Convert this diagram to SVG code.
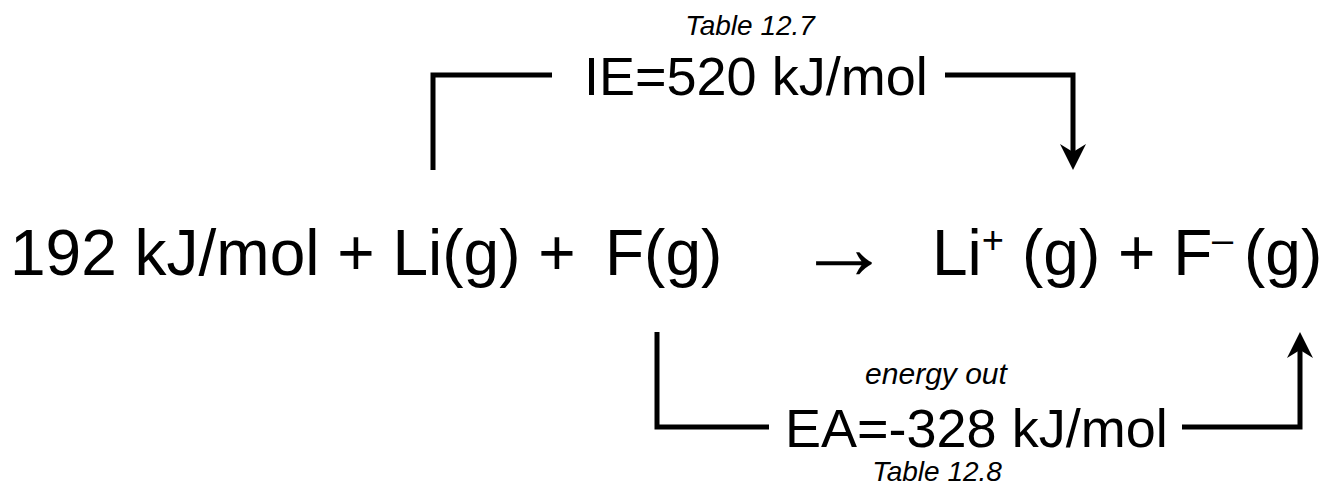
<svg xmlns="http://www.w3.org/2000/svg" width="1324" height="491" viewBox="0 0 1324 491">
<style>
text{font-family:"Liberation Sans",Arial,sans-serif;fill:#000}
.it{font-style:italic;font-size:28px;text-anchor:middle}
.lab{font-size:54px}
.eq{font-size:64px}
.sup{font-size:38px}
.arr{font-family:"Liberation Serif","Times New Roman",serif;font-size:94px}
.conn{fill:none;stroke:#000;stroke-width:5;stroke-linejoin:miter;stroke-linecap:butt}
</style>
<defs>
<marker id="ah" viewBox="0 0 26 26" refX="8" refY="13" markerWidth="26" markerHeight="26" markerUnits="userSpaceOnUse" orient="auto">
<path d="M0,0 L26,13 L0,26 L8,13 Z" fill="#000"/>
</marker>
</defs>
<rect width="1324" height="491" fill="#fff"/>
<g id="connectors">
<polyline class="conn" points="433,170 433,75 552,75"/>
<polyline class="conn" points="945,75 1073,75 1073,152" marker-end="url(#ah)"/>
<polyline class="conn" points="657,332 657,427 769,427"/>
<polyline class="conn" points="1182,427 1300,427 1300,350" marker-end="url(#ah)"/>
</g>
<g id="ie-label">
<text class="it" x="750" y="35">Table 12.7</text>
<text class="lab" x="584" y="95">IE=520 kJ/mol</text>
</g>
<g id="reactants">
<text class="eq" x="10" y="275">192 kJ/mol + Li(g) +</text>
<text class="eq" x="605" y="275">F(g)</text>
</g>
<g id="reaction-arrow">
<text class="arr" x="797" y="279">→</text>
</g>
<g id="products">
<text class="eq" x="932" y="275">Li<tspan class="sup" dy="-22">+</tspan><tspan dy="22" x="1022">(g) + F</tspan><tspan class="sup" x="1212" dy="-22">–</tspan><tspan x="1244" dy="22">(g)</tspan></text>
</g>
<g id="ea-label">
<text class="it" x="936" y="384" style="font-size:30px">energy out</text>
<text class="lab" x="785" y="447">EA=-328 kJ/mol</text>
<text class="it" x="937" y="481">Table 12.8</text>
</g>
</svg>
